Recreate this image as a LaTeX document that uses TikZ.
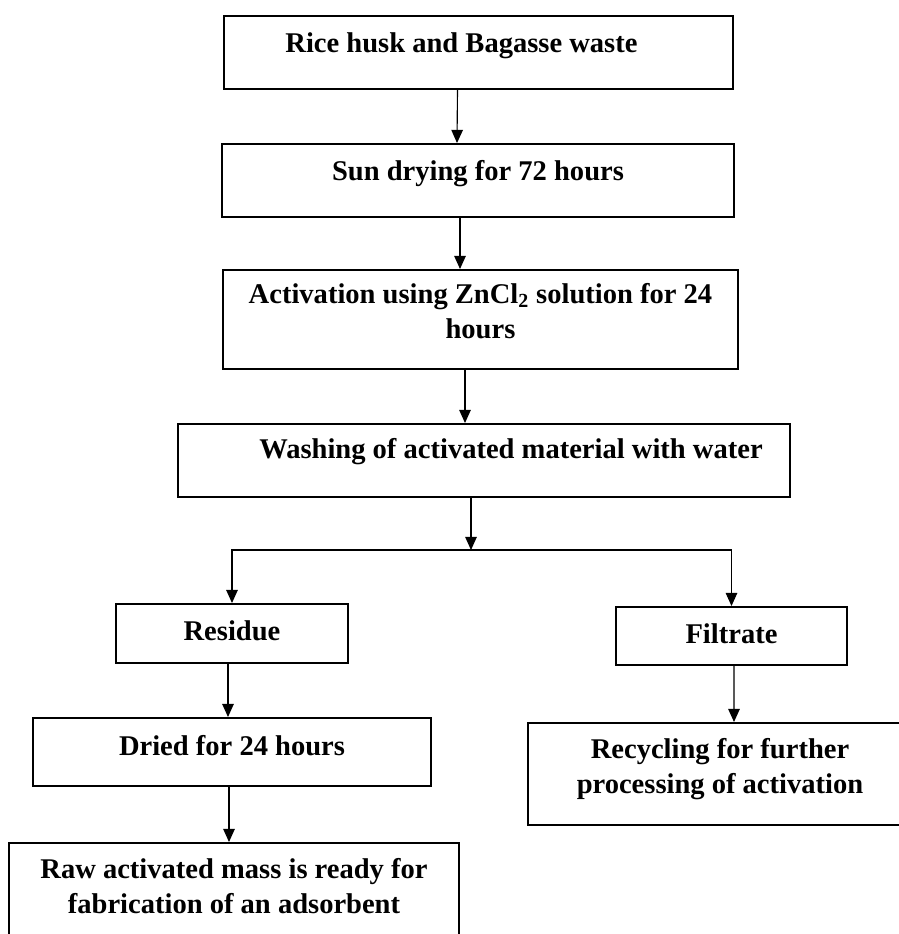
\documentclass[tikz,border=0pt]{standalone}
\usepackage{fontspec}
\setmainfont{Liberation Serif}
\usetikzlibrary{calc,arrows.meta}

\begin{document}
\begin{tikzpicture}[x=0.025cm, y=-0.025cm, stage/.style={rectangle, draw, line width=1.4pt, inner sep=0pt, anchor=center, align=center, font=\bfseries\fontsize{20.3}{24.5}\selectfont}, flow/.style={-{Triangle[length=3.3mm,width=2.9mm]}, line width=0.8pt}]

\useasboundingbox (0,0) rectangle (899,934);
\clip (0,0) rectangle (899,934);

%--colonna principale
\node [stage, minimum width=12.725cm, minimum height=1.825cm, text height=0.9cm, text depth=0.925cm] (husk) at (478.5,52.5) {Rice husk and Bagasse waste\hspace*{0.85cm}};
\node [stage, minimum width=12.8cm, minimum height=1.825cm, text height=0.9cm, text depth=0.925cm] (sun) at (478,180.5) {Sun drying for 72 hours};
\node [stage, minimum width=12.875cm, minimum height=2.475cm, text height=1.7cm, text depth=0.775cm] (activ) at (480.5,319.5) {Activation using ZnCl\textsubscript{2} solution for 24\\ hours};
\node [stage, minimum width=15.3cm, minimum height=1.825cm, text height=0.85cm, text depth=0.975cm] (wash) at (484,460.5) {\hspace*{1.35cm}Washing of activated material with water};

\draw[flow] ($(husk.south)+(-21,0)$) -- ($(sun.north)+(-21,0)$);
\draw[flow] ($(sun.south)+(-18,0)$) -- ($(activ.north)+(-20.5,0)$);
\draw[flow] ($(activ.south)+(-15.5,0)$) -- ($(wash.north)+(-19,0)$);

%--ramo residuo
\node [stage, minimum width=5.8cm, minimum height=1.475cm, text height=0.9cm, text depth=0.575cm] (residue) at (232,633.5) {Residue};
\node [stage, minimum width=9.95cm, minimum height=1.7cm, text height=0.925cm, text depth=0.775cm] (dried) at (232,752) {Dried for 24 hours};
\node [stage, minimum width=11.25cm, minimum height=2.675cm, text height=1.75cm, text depth=0.925cm] (raw) at (234,896.5) {Raw activated mass is ready for\\ fabrication of an adsorbent};

%--ramo filtrato
\node [stage, minimum width=5.775cm, minimum height=1.45cm, text height=0.9cm, text depth=0.55cm] (filtrate) at (731.5,636) {Filtrate};
\node [stage, minimum width=9.6cm, minimum height=2.55cm, text height=1.75cm, text depth=0.8cm] (recycle) at (720,774) {Recycling for further\\ processing of activation};

\coordinate (split) at (471,550);
\draw[flow] ($(wash.south)+(-13,0)$) -- (split);
\draw[flow] (split) -| (residue.north);
\draw[flow] (split) -| (filtrate.north);

\draw[flow] ($(residue.south)+(-4,0)$) -- ($(dried.north)+(-4,0)$);
\draw[flow] ($(dried.south)+(-3,0)$) -- ($(raw.north)+(-5,0)$);
\draw[flow] ($(filtrate.south)+(2.5,0)$) -- ($(recycle.north)+(14,0)$);

\end{tikzpicture}
\end{document}
